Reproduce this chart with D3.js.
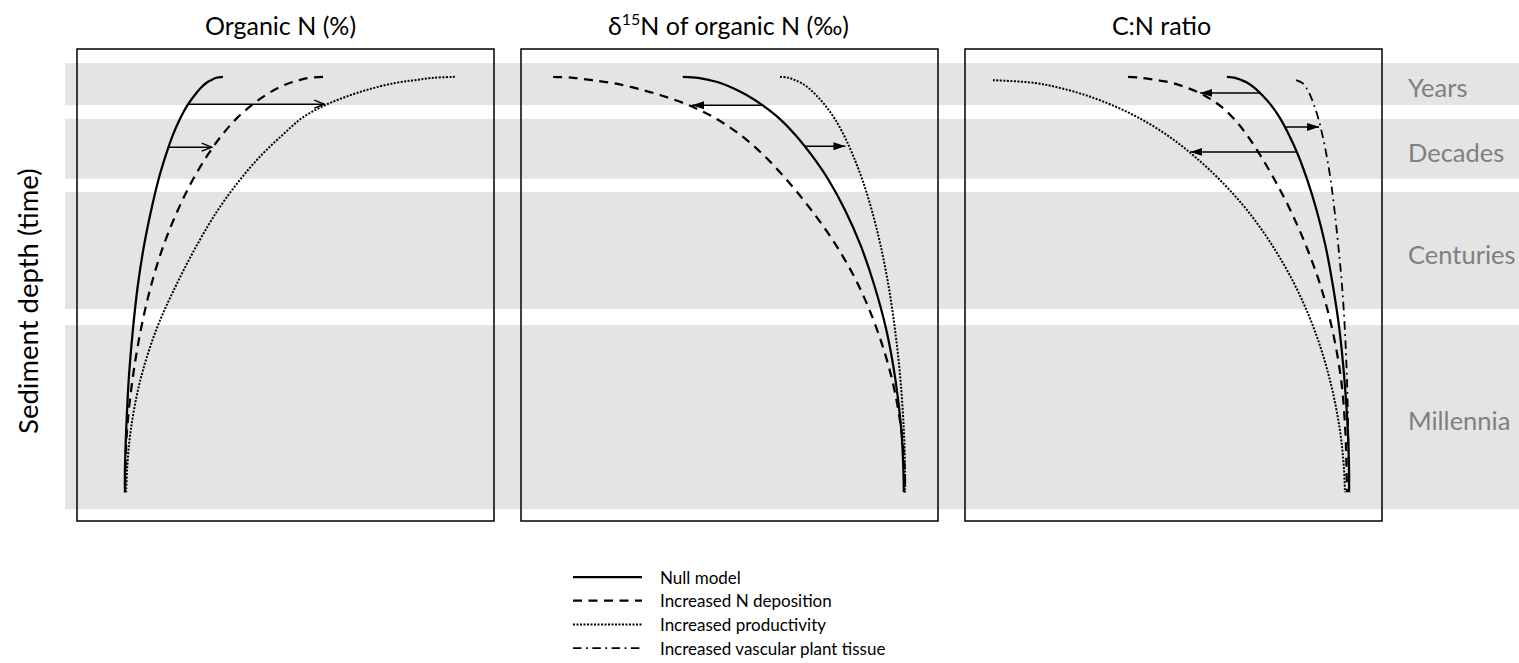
<!DOCTYPE html>
<html>
<head>
<meta charset="utf-8">
<script src="https://cdn.jsdelivr.net/npm/d3@7"></script>
<style>
  body { margin: 0; background: #fff; }
  svg { display: block; font-family: Lato, "Open Sans", sans-serif; }
</style>
</head>
<body>
<script>
/*** data ***/
// values run 0-100 across a panel; depth runs 0-100 from panel top to panel bottom
const panelTitles = ["Organic N (%)", "δ15N of organic N (‰)", "C:N ratio"];
const seriesNames = ["Null model", "Increased N deposition", "Increased productivity", "Increased vascular plant tissue"];

const bandNames = ["Years", "Decades", "Centuries", "Millennia"];
const bandTop = [3.0, 14.8, 30.3, 58.5];
const bandBottom = [11.9, 27.5, 55.1, 97.5];

const depthRows = [5.9, 6.1, 6.6, 7.2, 8.3, 9.8, 11.9, 14.6, 18.2, 22.5, 27.8, 34.1, 41.5, 50.0, 59.5, 70.1, 80.7, 89.2, 93.9];

// Organic N
const organicNull = [35.0, 33.4, 32.2, 31.0, 29.6, 28.2, 26.5, 24.8, 23.0, 21.3, 19.5, 17.8, 16.1, 14.6, 13.4, 12.4, 11.8, 11.5, 11.5];
const organicDeposition = [59.0, 55.7, 53.3, 51.0, 48.1, 45.2, 41.9, 38.4, 34.8, 31.3, 27.7, 24.2, 20.8, 17.8, 15.3, 13.3, 12.0, 11.6, 11.5];
const organicProductivity = [90.6, 85.5, 81.0, 76.3, 71.0, 65.5, 59.5, 54.0, 49.3, 44.2, 39.0, 33.8, 28.8, 23.8, 19.0, 15.2, 12.9, 12.0, 11.8];

// δ15N of organic N
const isoNull = [38.8, 42.5, 45.2, 47.8, 50.9, 54.2, 57.9, 61.8, 65.8, 69.7, 73.8, 77.7, 81.4, 84.7, 87.6, 89.8, 91.2, 91.7, 91.8];
const isoDeposition = [7.7, 12.5, 17.0, 21.8, 27.5, 33.5, 40.2, 46.5, 52.6, 58.2, 63.8, 69.6, 75.5, 80.9, 85.4, 89.0, 91.2, 92.0, 92.1];
const isoProductivity = [62.1, 64.2, 65.7, 67.2, 69.0, 70.8, 72.9, 75.1, 77.4, 79.6, 81.9, 84.1, 86.2, 88.1, 89.7, 91.0, 91.8, 92.1, 92.1];

// C:N ratio (null = curve not yet started at that depth)
const cnNull = [62.8, 64.8, 66.3, 67.8, 69.5, 71.3, 73.4, 75.5, 77.7, 79.9, 82.1, 84.3, 86.4, 88.2, 89.8, 91.0, 91.8, 92.1, 92.1];
const cnDeposition = [39.1, 42.3, 46.0, 49.8, 53.5, 57.3, 61.0, 64.3, 67.6, 70.8, 74.3, 78.0, 81.7, 85.2, 88.1, 90.2, 91.2, 91.5, 91.6];
const cnProductivity = [null, null, 6.7, 16.8, 23.0, 29.0, 35.3, 41.7, 48.4, 54.7, 61.2, 67.6, 73.6, 79.1, 83.8, 87.5, 89.9, 90.9, 91.1];
const cnVascular = [null, null, 79.4, 80.9, 81.9, 82.8, 83.7, 84.7, 85.7, 86.7, 87.7, 88.6, 89.5, 90.4, 91.1, 91.6, 91.9, 92.0, 92.1];

// arrows: [depth, from value, to value]
const organicArrows = [[11.7, 26.7, 59.3], [20.8, 22.0, 32.3]];
const isoArrows = [[11.9, 57.9, 41.0], [20.6, 67.9, 77.8]];
const cnArrows = [[9.3, 70.8, 56.4], [16.5, 76.7, 84.9], [21.8, 79.6, 54.0]];

/*** layout / styles ***/
const width = 1519, height = 663;
const panelLeft = [77, 521, 965], panelW = 417, panelTop = 49, panelBottom = 521;
const titleShift = [-5, -1, -12];

const lineStyles = [
  { width: 2.25, dash: null },
  { width: 2.25, dash: "9,6.5" },
  { width: 2, dash: "2,1.5" },
  { width: 1.8, dash: "8.5,4.5,1.8,4.5" }
];

const panels = [
  { series: [organicNull, organicDeposition, organicProductivity], arrows: organicArrows, head: "open" },
  { series: [isoNull, isoDeposition, isoProductivity], arrows: isoArrows, head: "solid" },
  { series: [cnNull, cnDeposition, cnProductivity, cnVascular], arrows: cnArrows, head: "solid" }
];

const svg = d3.select("body").append("svg")
  .attr("width", width)
  .attr("height", height);

const defs = svg.append("defs");
defs.append("marker")
  .attr("id", "head-open")
  .attr("markerUnits", "userSpaceOnUse")
  .attr("viewBox", "0 0 12 10")
  .attr("refX", 11).attr("refY", 5)
  .attr("markerWidth", 12).attr("markerHeight", 10)
  .attr("orient", "auto")
  .append("path")
  .attr("d", "M1,1 L11,5 L1,9")
  .attr("fill", "none").attr("stroke", "#000").attr("stroke-width", 1.4);
defs.append("marker")
  .attr("id", "head-solid")
  .attr("markerUnits", "userSpaceOnUse")
  .attr("viewBox", "0 0 12 10")
  .attr("refX", 12).attr("refY", 5)
  .attr("markerWidth", 12).attr("markerHeight", 10)
  .attr("orient", "auto")
  .append("path")
  .attr("d", "M0,1 L12,5 L0,9 Z")
  .attr("fill", "#000");

const y = d3.scaleLinear().domain([0, 100]).range([panelTop, panelBottom]);

// grey time bands behind everything
svg.append("g")
  .selectAll("rect")
  .data(bandNames)
  .join("rect")
  .attr("x", 65)
  .attr("width", width - 65)
  .attr("y", (d, i) => y(bandTop[i]))
  .attr("height", (d, i) => y(bandBottom[i]) - y(bandTop[i]))
  .attr("fill", "#e4e4e4");

svg.append("g")
  .selectAll("text")
  .data(bandNames)
  .join("text")
  .attr("x", 1408)
  .attr("y", (d, i) => y((bandTop[i] + bandBottom[i]) / 2) + 3)
  .attr("dominant-baseline", "central")
  .attr("font-size", 25.5)
  .attr("fill", "#7f7f7f")
  .text(d => d);

// y axis label
svg.append("text")
  .attr("transform", `translate(27,${(y(bandTop[0]) + y(bandBottom[3])) / 2 + 15}) rotate(-90)`)
  .attr("text-anchor", "middle")
  .attr("dominant-baseline", "central")
  .attr("font-size", 27.5)
  .text("Sediment depth (time)");

panels.forEach((p, k) => {
  const x = d3.scaleLinear().domain([0, 100]).range([panelLeft[k], panelLeft[k] + panelW]);
  const g = svg.append("g");

  g.append("rect")
    .attr("x", x(0)).attr("y", y(0))
    .attr("width", x(100) - x(0)).attr("height", y(100) - y(0))
    .attr("fill", "none").attr("stroke", "#000").attr("stroke-width", 1.5);

  // title
  const title = g.append("text")
    .attr("x", (x(0) + x(100)) / 2 + titleShift[k])
    .attr("y", 35)
    .attr("text-anchor", "middle")
    .attr("font-size", 25);
  if (k === 1) {
    title.append("tspan").text("δ");
    title.append("tspan").attr("font-size", 16).attr("dy", -10).text("15");
    title.append("tspan").attr("dy", 10).text("N of organic N (‰)");
  } else {
    title.text(panelTitles[k]);
  }

  const line = d3.line()
    .defined(d => d[0] != null)
    .x(d => x(d[0]))
    .y(d => y(d[1]))
    .curve(d3.curveCatmullRom.alpha(0.5));

  g.selectAll("path.curve")
    .data(p.series.map(vals => vals.map((v, j) => [v, depthRows[j]])))
    .join("path")
    .attr("class", "curve")
    .attr("d", line)
    .attr("fill", "none")
    .attr("stroke", "#000")
    .attr("stroke-width", (d, i) => lineStyles[i].width)
    .attr("stroke-dasharray", (d, i) => lineStyles[i].dash);

  g.selectAll("line.arrow")
    .data(p.arrows)
    .join("line")
    .attr("class", "arrow")
    .attr("x1", d => x(d[1])).attr("x2", d => x(d[2]))
    .attr("y1", d => y(d[0])).attr("y2", d => y(d[0]))
    .attr("stroke", "#000")
    .attr("stroke-width", 1.5)
    .attr("marker-end", `url(#head-${p.head})`);
});

// legend
const legend = svg.append("g")
  .selectAll("g")
  .data(seriesNames)
  .join("g")
  .attr("transform", (d, i) => `translate(573,${577 + i * 23.7})`);

legend.append("line")
  .attr("x1", 0).attr("x2", 69)
  .attr("stroke", "#000")
  .attr("stroke-width", (d, i) => lineStyles[i].width)
  .attr("stroke-dasharray", (d, i) => lineStyles[i].dash);

legend.append("text")
  .attr("x", 87)
  .attr("dominant-baseline", "central")
  .attr("font-size", 17)
  .text(d => d);
</script>
</body>
</html>
